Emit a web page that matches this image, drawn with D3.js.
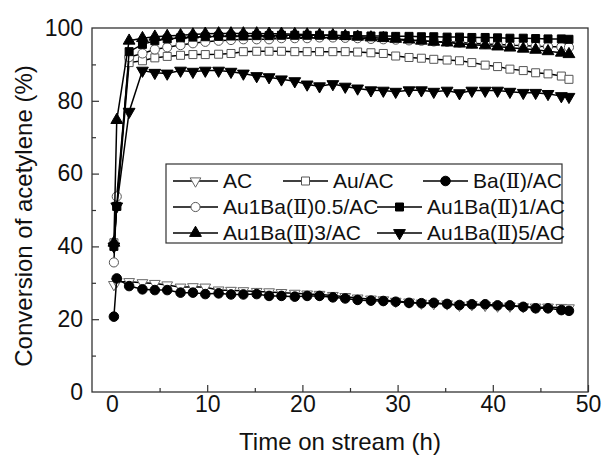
<!DOCTYPE html>
<html>
<head>
<meta charset="utf-8">
<script src="https://cdn.jsdelivr.net/npm/d3@7/dist/d3.min.js"></script>
<style>
  body { margin: 0; background: #fff; }
  svg { display: block; font-family: "Liberation Sans", Arial, sans-serif; }
  .roman { font-family: "DejaVu Serif", "Liberation Serif", serif; }
</style>
</head>
<body>
<svg id="chart" width="603" height="463"></svg>
<script>
  const width = 603, height = 463;
  const margin = { top: 28, right: 15, bottom: 71, left: 92 };

  // time on stream (h)
  const times = [0.2, 0.5, 1.8, 3.2, 4.5, 5.8, 7.2, 8.5, 9.8, 11.2, 12.5, 13.8, 15.2, 16.5, 17.8, 19.2,
    20.5, 21.8, 23.2, 24.5, 25.8, 27.2, 28.5, 29.8, 31.2, 32.5, 33.8, 35.2, 36.5, 37.8, 39.2, 40.5,
    41.8, 43.2, 44.5, 45.8, 47.2, 48.0];

  // conversion of acetylene (%)
  const acVals = [29.5, 30.3, 30.3, 30.0, 29.8, 29.4, 28.8, 28.9, 28.8, 28.0, 27.9, 27.8, 27.6, 27.5, 27.3, 27.1,
    26.9, 26.8, 26.5, 26.2, 25.8, 25.5, 25.3, 24.9, 24.7, 24.4, 24.3, 24.2, 23.8, 24.0, 23.8, 23.6,
    23.6, 23.4, 23.3, 23.3, 23.2, 23.1];
  const auVals = [41, 51, 90.5, 91.0, 91.8, 92.2, 92.5, 92.7, 92.7, 92.8, 93.0, 93.5, 93.6, 93.6, 93.6, 93.5,
    93.5, 93.5, 93.5, 93.5, 93.4, 93.2, 93.0, 92.3, 91.9, 91.7, 91.4, 91.2, 91.0, 90.5, 89.8, 89.4,
    88.7, 88.3, 87.7, 87.4, 86.8, 85.9];
  const baVals = [20.7, 31.2, 29.1, 28.2, 28.0, 28.0, 27.3, 27.3, 26.9, 27.1, 26.8, 26.8, 26.9, 26.4, 26.4, 26.2,
    26.4, 26.4, 26.0, 25.7, 25.3, 25.1, 25.0, 24.8, 24.5, 24.4, 24.5, 24.2, 23.9, 24.1, 24.1, 23.8,
    23.8, 23.4, 23.0, 23.0, 22.5, 22.3];
  const ba05Vals = [35.6, 53.7, 92.0, 93.0, 94.1, 94.7, 95.3, 95.8, 96.2, 96.5, 96.7, 96.9, 96.9, 96.9, 97.2, 97.2,
    97.2, 97.4, 97.4, 97.3, 97.2, 97.0, 96.9, 96.8, 96.6, 96.5, 96.3, 96.2, 96.0, 95.8, 95.6, 95.5,
    95.3, 95.2, 95.0, 94.9, 94.8, 94.7];
  const ba1Vals = [40, 51, 93.5, 95.5, 96.5, 97.0, 97.3, 97.5, 97.6, 97.7, 97.8, 97.8, 97.9, 97.9, 98.0, 98.0,
    98.0, 98.0, 98.0, 97.9, 97.9, 97.8, 97.8, 97.7, 97.7, 97.6, 97.6, 97.5, 97.5, 97.4, 97.4, 97.3,
    97.2, 97.2, 97.1, 97.0, 97.0, 96.9];
  const ba3Vals = [41, 74.7, 96.5, 97.2, 97.6, 97.8, 98.0, 98.2, 98.4, 98.5, 98.5, 98.5, 98.5, 98.4, 98.4, 98.3,
    98.2, 98.1, 98.0, 97.8, 97.6, 97.4, 97.2, 97.0, 96.8, 96.5, 96.2, 96.0, 95.7, 95.4, 95.2, 94.9,
    94.6, 94.3, 94.0, 93.6, 93.2, 92.8];
  const ba5Vals = [40, 51, 77, 88.3, 87.7, 87.5, 88.3, 88.0, 88.3, 88.3, 88.0, 87.5, 86.8, 86.5, 85.9, 85.4,
    84.5, 84.0, 84.6, 83.9, 83.4, 82.9, 82.8, 82.5, 82.9, 82.9, 82.5, 82.8, 82.1, 82.8, 82.8, 82.8,
    82.5, 82.2, 82.2, 81.9, 81.3, 81.1];

  const seriesNames = ["AC", "Au/AC", "Ba(Ⅱ)/AC", "Au1Ba(Ⅱ)0.5/AC", "Au1Ba(Ⅱ)1/AC", "Au1Ba(Ⅱ)3/AC", "Au1Ba(Ⅱ)5/AC"];
  const xTicks = [0, 10, 20, 30, 40, 50];
  const yTicks = [0, 20, 40, 60, 80, 100];

  // marker style per series
  const markers = [
    { type: d3.symbolTriangle, size: 50, rotate: 180, fill: "#fff", stroke: "#666" },
    { type: d3.symbolSquare, size: 64, rotate: 0, fill: "#fff", stroke: "#555" },
    { type: d3.symbolCircle, size: 72, rotate: 0, fill: "#000", stroke: "#000" },
    { type: d3.symbolCircle, size: 66, rotate: 0, fill: "#fff", stroke: "#555" },
    { type: d3.symbolSquare, size: 64, rotate: 0, fill: "#000", stroke: "#000" },
    { type: d3.symbolTriangle, size: 60, rotate: 0, fill: "#000", stroke: "#000" },
    { type: d3.symbolTriangle, size: 60, rotate: 180, fill: "#000", stroke: "#000" }
  ];

  const allVals = [acVals, auVals, baVals, ba05Vals, ba1Vals, ba3Vals, ba5Vals];
  const series = seriesNames.map((name, i) => ({
    name,
    marker: markers[i],
    points: times.map((t, j) => ({ t, v: allVals[i][j] }))
  }));

  const svg = d3.select("#chart");

  const x = d3.scaleLinear().domain([-2.1, 50]).range([margin.left, width - margin.right]);
  const y = d3.scaleLinear().domain([0, 100]).range([height - margin.bottom, margin.top]);

  // minor ticks
  svg.append("g")
    .attr("transform", `translate(0,${height - margin.bottom})`)
    .call(d3.axisBottom(x).tickValues([5, 15, 25, 35, 45]).tickSize(-4).tickFormat(""))
    .call(g => g.select(".domain").remove())
    .selectAll("line").attr("stroke", "#333").attr("stroke-width", 1.2);
  svg.append("g")
    .attr("transform", `translate(${margin.left},0)`)
    .call(d3.axisLeft(y).tickValues([10, 30, 50, 70, 90]).tickSize(-4).tickFormat(""))
    .call(g => g.select(".domain").remove())
    .selectAll("line").attr("stroke", "#333").attr("stroke-width", 1.2);

  // major ticks
  const xAxis = svg.append("g")
    .attr("transform", `translate(0,${height - margin.bottom})`)
    .call(d3.axisBottom(x).tickValues(xTicks).tickSize(-7).tickPadding(4));
  const yAxis = svg.append("g")
    .attr("transform", `translate(${margin.left},0)`)
    .call(d3.axisLeft(y).tickValues(yTicks).tickSize(-7).tickPadding(9));

  [xAxis, yAxis].forEach(g => {
    g.select(".domain").remove();
    g.selectAll("line").attr("stroke", "#333").attr("stroke-width", 1.2);
    g.selectAll("text").attr("font-size", 23).attr("fill", "#111")
      .attr("font-family", "'Liberation Sans', Arial, sans-serif");
  });
  xAxis.selectAll(".tick").filter(d => d === 0).select("line").remove();
  yAxis.selectAll(".tick").filter(d => d === 0 || d === 100).select("line").remove();

  // frame
  svg.append("rect")
    .attr("x", margin.left).attr("y", margin.top)
    .attr("width", width - margin.left - margin.right)
    .attr("height", height - margin.top - margin.bottom)
    .attr("fill", "none").attr("stroke", "#333").attr("stroke-width", 1.3);

  const line = d3.line().x(d => x(d.t)).y(d => y(d.v));

  function symbolPath(m) {
    return d3.symbol().type(m.type).size(m.size)();
  }

  const groups = svg.append("g").selectAll("g.series")
    .data(series)
    .join("g")
    .attr("class", "series");

  groups.append("path")
    .attr("d", d => line(d.points))
    .attr("fill", "none")
    .attr("stroke", "#000")
    .attr("stroke-width", 1.5);

  groups.each(function (s) {
    d3.select(this).selectAll("path.mk")
      .data(s.points)
      .join("path")
      .attr("class", "mk")
      .attr("d", symbolPath(s.marker))
      .attr("transform", d => `translate(${x(d.t)},${y(d.v)}) rotate(${s.marker.rotate})`)
      .attr("fill", s.marker.fill)
      .attr("stroke", s.marker.stroke)
      .attr("stroke-width", 1);
  });

  // legend
  const legend = svg.append("g");
  legend.append("rect")
    .attr("x", 166).attr("y", 164).attr("width", 396).attr("height", 79)
    .attr("fill", "#fff").attr("stroke", "#333").attr("stroke-width", 1.2);

  const legendPos = [[173, 181], [283, 181], [423, 181], [173, 207], [377, 207], [173, 233], [377, 233]];

  series.forEach((s, i) => {
    const [lx, ly] = legendPos[i];
    const item = legend.append("g").attr("transform", `translate(${lx},${ly})`);
    item.append("line")
      .attr("x1", 0).attr("x2", 45).attr("y1", 0).attr("y2", 0)
      .attr("stroke", "#000").attr("stroke-width", 1.5);
    item.append("path")
      .attr("d", symbolPath(s.marker))
      .attr("transform", `translate(22.5,0) rotate(${s.marker.rotate})`)
      .attr("fill", s.marker.fill)
      .attr("stroke", s.marker.stroke);
    const txt = item.append("text")
      .attr("x", 50).attr("y", 7)
      .attr("font-size", 21).attr("fill", "#111");
    s.name.split(/(Ⅱ)/).forEach(part => {
      if (!part) return;
      txt.append("tspan")
        .attr("class", part === "Ⅱ" ? "roman" : null)
        .text(part);
    });
  });

  // axis titles
  svg.append("text")
    .attr("x", (margin.left + width - margin.right) / 2)
    .attr("y", 450)
    .attr("text-anchor", "middle")
    .attr("font-size", 24).attr("fill", "#111")
    .text("Time on stream (h)");

  svg.append("text")
    .attr("transform", `translate(32,${(margin.top + height - margin.bottom) / 2 + 6}) rotate(-90)`)
    .attr("text-anchor", "middle")
    .attr("font-size", 24).attr("fill", "#111")
    .text("Conversion of acetylene (%)");
</script>
</body>
</html>
